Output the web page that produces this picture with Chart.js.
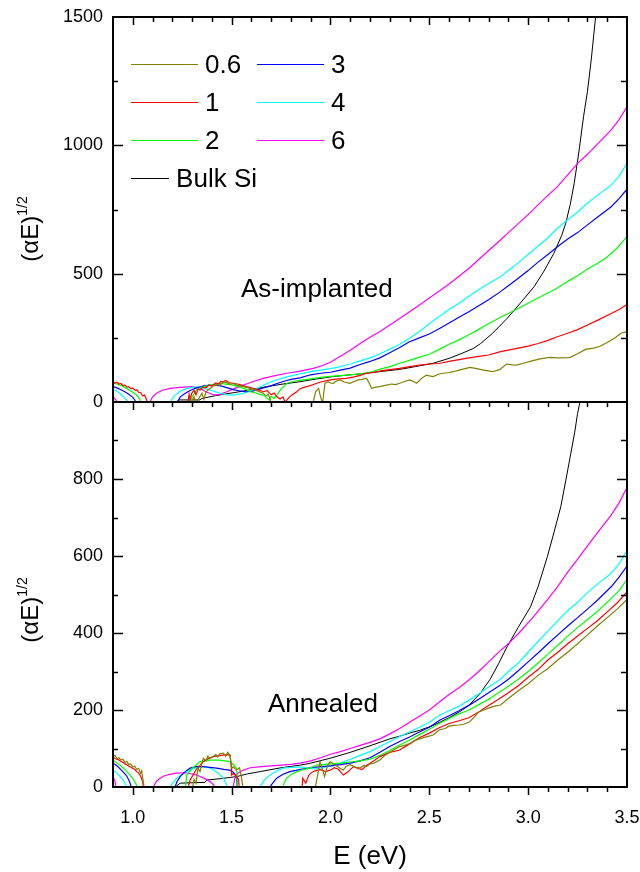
<!DOCTYPE html>
<html>
<head>
<meta charset="utf-8">
<script src="https://cdn.jsdelivr.net/npm/chart.js@4.4.1/dist/chart.umd.min.js"></script>
<style>
  html, body { margin: 0; padding: 0; background: #fff; }
  #wrap { position: relative; width: 640px; height: 872px; overflow: hidden; font-family: "Liberation Sans", Arial, sans-serif; color: #000; }
  canvas { position: absolute; left: 0; }
  #topChart { top: 0; }
  #bottomChart { top: 380px; }
  .ytitle { position: absolute; transform: translate(-50%, -50%) rotate(-90deg); white-space: nowrap; font-size: 24px; }
  .ytitle sup { font-size: 14px; position: relative; top: -2px; }
  .note { position: absolute; font-size: 26px; white-space: nowrap; line-height: 1; }
  #topChart-legend { position: absolute; left: 131px; top: 45px; }
  #topChart-legend ul { list-style: none; margin: 0; padding: 0; display: grid; grid-auto-flow: column; grid-template-rows: repeat(4, 38px); grid-template-columns: 126px auto; }
  #topChart-legend li { display: flex; align-items: center; font-size: 26px; white-space: nowrap; }
  #topChart-legend li span { display: inline-block; width: 67px; height: 1px; margin-right: 7px; }
</style>
</head>
<body>
<div id="wrap">
  <canvas id="topChart" width="640" height="420"></canvas>
  <canvas id="bottomChart" width="640" height="492"></canvas>
  <div id="topChart-legend"></div>
  <div class="note" style="left:241px; top:275px;">As-implanted</div>
  <div class="note" style="left:268px; top:690px;">Annealed</div>
  <div class="ytitle" style="left:30px; top:229px;">(αE)<sup>1/2</sup></div>
  <div class="ytitle" style="left:30px; top:610px;">(αE)<sup>1/2</sup></div>
</div>
<script>
'use strict';

// implantation dose labels and line colours
const seriesLabels = ['0.6', '1', '2', '3', '4', '6', 'Bulk Si'];
const seriesColors = ['#808000', '#ff0000', '#00ff00', '#0000ff', '#00ffff', '#ff00ff', '#000000'];
const energyTicks = [1.0, 1.5, 2.0, 2.5, 3.0, 3.5];

// [E (eV), (alpha*E)^1/2] -- as-implanted samples
const asImp06 = [[1.29,-10],[1.31,20],[1.32,-5],[1.335,15],[1.35,34],[1.36,10],[1.37,40],[1.38,47],[1.395,55],[1.405,60],[1.42,68],[1.44,66],[1.46,78],[1.475,75],[1.49,70],[1.51,72],[1.525,66],[1.55,62],[1.57,58],[1.593,53],[1.62,46],[1.64,40],[1.66,34],[1.675,24],[1.685,30],[1.694,15],[1.70,-10],[1.80,-10],[1.905,-10],[1.913,0],[1.925,40],[1.94,53],[1.95,20],[1.96,-5],[1.972,73],[1.989,79],[2.0,74],[2.014,73],[2.03,82],[2.048,86],[2.07,78],[2.098,73],[2.12,80],[2.14,86],[2.16,88],[2.183,92],[2.195,75],[2.208,53],[2.23,58],[2.25,60],[2.27,64],[2.284,66],[2.31,70],[2.33,68],[2.35,73],[2.375,80],[2.40,86],[2.42,80],[2.436,73],[2.46,92],[2.486,105],[2.50,102],[2.52,99],[2.545,108],[2.57,112],[2.6,115],[2.62,118],[2.66,126],[2.706,135],[2.74,130],[2.77,125],[2.79,122],[2.82,118],[2.858,127],[2.89,148],[2.92,145],[2.94,144],[2.98,152],[3.02,160],[3.06,168],[3.11,174],[3.15,172],[3.21,173],[3.25,188],[3.29,205],[3.33,210],[3.36,216],[3.40,232],[3.44,250],[3.47,268],[3.5,274]];
const asImp1 = [[0.9,79],[0.91,74],[0.92,77],[0.93,70],[0.94,72],[0.95,64],[0.96,66],[0.97,58],[0.98,60],[0.99,52],[1.0,54],[1.01,46],[1.02,47],[1.03,38],[1.04,36],[1.05,24],[1.06,27],[1.07,8],[1.08,-10],[1.27,-10],[1.28,5],[1.285,30],[1.29,10],[1.298,34],[1.31,45],[1.32,28],[1.33,50],[1.34,47],[1.355,58],[1.37,55],[1.385,66],[1.40,62],[1.407,66],[1.42,74],[1.435,70],[1.445,80],[1.458,79],[1.47,84],[1.485,76],[1.5,74],[1.51,73],[1.53,70],[1.55,66],[1.576,60],[1.6,55],[1.63,48],[1.66,40],[1.68,44],[1.70,28],[1.715,35],[1.728,21],[1.745,12],[1.76,20],[1.77,0],[1.78,8],[1.795,21],[1.81,30],[1.83,40],[1.846,52],[1.87,58],[1.89,62],[1.913,68],[1.95,78],[1.997,86],[2.04,90],[2.08,92],[2.12,98],[2.15,104],[2.183,112],[2.22,116],[2.26,122],[2.30,126],[2.35,131],[2.40,138],[2.45,144],[2.5,148],[2.55,150],[2.6,158],[2.65,165],[2.7,172],[2.75,178],[2.8,183],[2.86,196],[2.9,202],[2.95,210],[3.0,218],[3.05,228],[3.1,240],[3.148,254],[3.2,268],[3.25,282],[3.3,300],[3.35,318],[3.42,345],[3.46,360],[3.5,380]];
const asImp2 = [[0.9,73],[0.92,70],[0.94,64],[0.96,57],[0.98,48],[1.0,38],[1.015,30],[1.03,18],[1.037,8],[1.045,-10],[1.29,-10],[1.30,20],[1.323,47],[1.35,58],[1.39,66],[1.42,71],[1.44,73],[1.47,70],[1.51,66],[1.54,58],[1.57,50],[1.593,40],[1.62,36],[1.64,30],[1.66,27],[1.675,18],[1.69,8],[1.70,22],[1.715,14],[1.728,27],[1.75,50],[1.78,73],[1.81,80],[1.846,84],[1.9,90],[1.95,96],[2.0,100],[2.05,103],[2.1,106],[2.15,110],[2.2,116],[2.25,128],[2.3,138],[2.35,151],[2.4,162],[2.45,175],[2.5,186],[2.55,205],[2.6,225],[2.65,242],[2.7,262],[2.75,283],[2.8,305],[2.86,330],[2.9,345],[2.95,365],[3.0,385],[3.05,405],[3.1,425],[3.15,445],[3.2,470],[3.25,492],[3.3,518],[3.35,540],[3.4,565],[3.45,600],[3.5,644]];
const asImp3 = [[0.9,60],[0.92,55],[0.94,48],[0.96,40],[0.98,30],[1.0,18],[1.01,8],[1.02,-10],[1.22,-10],[1.23,5],[1.24,20],[1.264,33],[1.29,45],[1.323,55],[1.36,63],[1.39,66],[1.42,66],[1.45,62],[1.48,55],[1.508,48],[1.54,43],[1.57,40],[1.60,41],[1.63,47],[1.66,55],[1.694,62],[1.73,72],[1.77,82],[1.8,88],[1.846,94],[1.9,106],[1.95,112],[2.0,116],[2.05,124],[2.1,132],[2.15,146],[2.2,158],[2.25,172],[2.3,192],[2.35,212],[2.4,235],[2.45,250],[2.5,265],[2.554,287],[2.6,308],[2.65,330],[2.7,352],[2.75,375],[2.8,398],[2.86,430],[2.9,453],[2.95,482],[3.0,512],[3.05,545],[3.1,575],[3.148,605],[3.2,635],[3.25,660],[3.3,690],[3.35,720],[3.42,761],[3.46,792],[3.5,829]];
const asImp4 = [[0.9,50],[0.92,42],[0.94,30],[0.96,15],[0.975,3],[0.985,-10],[1.18,-10],[1.19,0],[1.21,25],[1.24,42],[1.27,52],[1.306,58],[1.34,58],[1.37,52],[1.41,42],[1.44,34],[1.475,28],[1.51,27],[1.558,34],[1.6,45],[1.627,53],[1.66,65],[1.71,82],[1.76,94],[1.8,102],[1.846,110],[1.9,118],[1.95,124],[2.0,130],[2.05,138],[2.1,148],[2.15,160],[2.2,172],[2.25,188],[2.3,205],[2.35,225],[2.4,248],[2.45,275],[2.5,305],[2.554,335],[2.6,360],[2.65,385],[2.7,412],[2.75,438],[2.8,462],[2.86,488],[2.9,512],[2.95,543],[3.0,575],[3.05,608],[3.1,640],[3.148,677],[3.2,710],[3.25,740],[3.3,775],[3.35,805],[3.42,845],[3.46,880],[3.5,930]];
const asImp6 = [[0.9,22],[0.91,12],[0.92,2],[0.93,-10],[1.08,-10],[1.087,0],[1.1,20],[1.12,34],[1.15,46],[1.19,53],[1.24,57],[1.30,60],[1.34,53],[1.37,40],[1.40,30],[1.416,27],[1.44,30],[1.475,40],[1.52,54],[1.56,66],[1.61,80],[1.66,92],[1.72,103],[1.78,112],[1.846,120],[1.913,131],[1.96,142],[2.0,155],[2.05,178],[2.1,202],[2.15,228],[2.2,252],[2.25,275],[2.3,300],[2.35,325],[2.4,352],[2.45,378],[2.5,405],[2.554,434],[2.6,460],[2.65,490],[2.7,520],[2.75,555],[2.8,590],[2.86,631],[2.9,660],[2.95,695],[3.0,730],[3.05,768],[3.1,805],[3.148,839],[3.2,885],[3.25,930],[3.3,965],[3.35,1005],[3.42,1060],[3.46,1100],[3.5,1150]];
const asImpBulk = [[1.225,0],[1.23,8],[1.34,8],[1.35,14],[1.42,25],[1.508,36],[1.6,48],[1.677,60],[1.76,70],[1.846,79],[1.93,90],[2.014,99],[2.1,106],[2.183,112],[2.27,120],[2.35,127],[2.43,138],[2.52,151],[2.6,170],[2.66,188],[2.724,209],[2.76,228],[2.82,268],[2.894,326],[2.96,385],[3.03,449],[3.08,510],[3.13,579],[3.17,650],[3.19,696],[3.213,770],[3.233,852],[3.258,982],[3.28,1111],[3.30,1210],[3.32,1340],[3.345,1530]];

// annealed samples
const ann06 = [[0.9,79],[0.91,82],[0.92,74],[0.93,76],[0.94,70],[0.95,72],[0.96,64],[0.97,66],[0.98,58],[0.99,60],[1.0,52],[1.01,54],[1.02,46],[1.03,48],[1.04,36],[1.045,42],[1.053,14],[1.06,-10],[1.30,-10],[1.31,20],[1.32,10],[1.33,49],[1.34,40],[1.357,75],[1.37,68],[1.38,80],[1.39,74],[1.407,79],[1.42,84],[1.43,78],[1.44,86],[1.458,88],[1.47,80],[1.48,90],[1.492,83],[1.5,49],[1.51,52],[1.525,44],[1.54,50],[1.55,25],[1.56,-10],[1.92,-10],[1.935,30],[1.947,66],[1.96,45],[1.97,27],[1.985,55],[1.998,66],[2.015,60],[2.03,55],[2.05,48],[2.065,44],[2.08,54],[2.1,58],[2.125,52],[2.15,50],[2.17,56],[2.183,53],[2.2,60],[2.22,62],[2.25,70],[2.275,82],[2.3,90],[2.325,98],[2.35,105],[2.375,108],[2.4,113],[2.425,120],[2.45,125],[2.485,130],[2.52,135],[2.55,148],[2.58,152],[2.6,158],[2.625,160],[2.65,161],[2.675,163],[2.7,168],[2.725,180],[2.75,195],[2.775,200],[2.8,205],[2.83,210],[2.86,213],[2.9,230],[2.95,250],[3.0,268],[3.05,290],[3.1,308],[3.15,330],[3.2,350],[3.25,372],[3.3,395],[3.35,418],[3.4,440],[3.45,462],[3.5,487]];
const ann1 = [[0.9,77],[0.91,74],[0.92,72],[0.93,70],[0.94,66],[0.95,64],[0.96,60],[0.97,58],[0.98,54],[0.99,52],[1.0,48],[1.01,46],[1.02,40],[1.03,36],[1.04,28],[1.05,14],[1.057,-10],[1.275,-10],[1.28,0],[1.29,18],[1.305,31],[1.32,45],[1.34,56],[1.357,66],[1.38,73],[1.407,79],[1.43,81],[1.458,83],[1.48,84],[1.492,82],[1.497,60],[1.5,31],[1.51,35],[1.525,27],[1.535,20],[1.54,-10],[1.855,-10],[1.86,23],[1.875,10],[1.89,30],[1.9,36],[1.92,42],[1.95,45],[1.975,40],[2.0,44],[2.02,50],[2.04,46],[2.065,31],[2.09,40],[2.116,53],[2.14,48],[2.16,45],[2.18,55],[2.2,62],[2.225,70],[2.25,79],[2.3,90],[2.35,96],[2.4,112],[2.45,128],[2.5,140],[2.55,154],[2.6,165],[2.65,172],[2.7,180],[2.75,195],[2.8,212],[2.85,228],[2.9,245],[2.95,263],[3.0,285],[3.05,305],[3.1,330],[3.15,350],[3.2,372],[3.25,392],[3.3,412],[3.35,432],[3.4,455],[3.45,478],[3.5,507]];
const ann2 = [[0.9,70],[0.92,62],[0.94,55],[0.96,45],[0.986,31],[1.0,22],[1.015,10],[1.028,-10],[1.265,-10],[1.273,31],[1.30,48],[1.34,66],[1.39,70],[1.44,70],[1.49,66],[1.51,58],[1.525,49],[1.53,-10],[1.755,-10],[1.765,10],[1.778,23],[1.80,32],[1.83,40],[1.86,45],[1.896,49],[1.93,57],[1.96,58],[2.0,60],[2.05,62],[2.1,65],[2.15,68],[2.2,72],[2.25,82],[2.3,95],[2.35,109],[2.4,122],[2.45,136],[2.5,150],[2.55,165],[2.6,178],[2.65,190],[2.7,200],[2.75,214],[2.8,228],[2.86,248],[2.9,262],[2.95,280],[3.0,300],[3.05,322],[3.1,345],[3.15,368],[3.2,392],[3.25,414],[3.3,435],[3.35,456],[3.42,490],[3.46,510],[3.5,539]];
const ann3 = [[0.9,62],[0.92,55],[0.94,45],[0.966,31],[0.98,18],[0.99,5],[0.995,-10],[1.205,-10],[1.213,0],[1.225,15],[1.24,27],[1.265,40],[1.29,49],[1.32,53],[1.357,53],[1.39,51],[1.424,49],[1.46,46],[1.49,44],[1.51,38],[1.525,27],[1.53,-10],[1.69,-10],[1.70,5],[1.728,23],[1.76,33],[1.795,40],[1.85,46],[1.9,50],[1.95,53],[2.0,55],[2.05,58],[2.1,62],[2.15,68],[2.2,76],[2.25,90],[2.3,105],[2.35,118],[2.4,130],[2.45,143],[2.5,155],[2.554,174],[2.6,185],[2.65,198],[2.7,212],[2.75,228],[2.8,245],[2.86,265],[2.9,280],[2.95,302],[3.0,325],[3.05,348],[3.1,372],[3.15,395],[3.2,418],[3.25,440],[3.3,462],[3.35,485],[3.42,520],[3.46,545],[3.5,574]];
const ann4 = [[0.9,44],[0.92,36],[0.952,18],[0.965,5],[0.97,-10],[1.18,-10],[1.188,0],[1.205,12],[1.222,23],[1.25,33],[1.29,44],[1.32,50],[1.357,53],[1.385,50],[1.41,44],[1.435,35],[1.458,23],[1.47,12],[1.48,-10],[1.638,-10],[1.644,0],[1.665,18],[1.694,31],[1.73,42],[1.76,49],[1.8,51],[1.846,52],[1.9,48],[1.93,47],[1.96,50],[2.0,55],[2.05,62],[2.1,72],[2.15,82],[2.2,92],[2.25,105],[2.3,118],[2.35,131],[2.4,143],[2.45,155],[2.5,168],[2.554,187],[2.6,198],[2.65,210],[2.7,225],[2.75,242],[2.8,260],[2.86,280],[2.9,300],[2.95,322],[3.0,350],[3.05,378],[3.1,405],[3.15,432],[3.2,458],[3.25,480],[3.3,505],[3.35,527],[3.42,555],[3.46,580],[3.5,614]];
const ann6 = [[0.9,27],[0.91,15],[0.918,-10],[1.098,-10],[1.104,0],[1.12,15],[1.138,23],[1.16,29],[1.188,33],[1.22,36],[1.255,37],[1.29,35],[1.323,31],[1.36,23],[1.39,14],[1.41,5],[1.424,-10],[1.505,-10],[1.515,20],[1.53,35],[1.56,44],[1.593,50],[1.65,53],[1.7,55],[1.75,57],[1.8,59],[1.846,62],[1.9,68],[1.95,76],[2.0,85],[2.05,92],[2.1,100],[2.15,108],[2.2,116],[2.25,125],[2.3,138],[2.35,152],[2.4,168],[2.45,184],[2.5,200],[2.554,222],[2.6,240],[2.65,258],[2.7,278],[2.75,300],[2.8,325],[2.86,355],[2.893,369],[2.95,398],[3.02,438],[3.1,488],[3.148,520],[3.2,558],[3.25,592],[3.284,615],[3.35,660],[3.42,706],[3.46,738],[3.5,778]];
const annBulk = [[1.212,-5],[1.215,0],[1.24,10],[1.30,11],[1.365,12],[1.374,18],[1.45,22],[1.525,27],[1.58,34],[1.644,40],[1.75,50],[1.85,57],[1.9,62],[2.0,75],[2.1,90],[2.2,107],[2.3,125],[2.35,132],[2.4,140],[2.45,147],[2.52,160],[2.6,180],[2.655,196],[2.7,212],[2.757,243],[2.808,280],[2.85,320],[2.893,364],[2.95,415],[3.012,468],[3.05,520],[3.097,598],[3.13,660],[3.165,728],[3.19,795],[3.216,867],[3.235,920],[3.25,970],[3.264,1005],[3.28,1060]];

const tickFont = { family: '"Liberation Sans", Arial, sans-serif', size: 18 };

function makeSets(series) {
  return series.map((pts, i) => ({
    label: seriesLabels[i],
    data: pts.map(p => ({ x: p[0], y: p[1] })),
    borderColor: seriesColors[i],
    backgroundColor: seriesColors[i],
    borderWidth: i === 6 ? 1 : 1.2,
    pointRadius: 0,
    fill: false,
    tension: 0
  }));
}

// box around the plot with inward (or outward) tick marks on every side
const frameTicks = {
  id: 'frameTicks',
  afterDatasetsDraw(chart, args, opts) {
    const { ctx, chartArea: a, scales: { x, y } } = chart;
    ctx.save();
    ctx.strokeStyle = '#000';
    ctx.lineWidth = 1.5;
    ctx.beginPath();
    for (let i = 10; i < 35; i++) {
      const px = Math.round(x.getPixelForValue(i / 10)) + 0.5;
      const len = i % 5 === 0 ? 8 : 5;
      if (opts.top) { ctx.moveTo(px, a.top); ctx.lineTo(px, a.top + len); }
      if (opts.bottom) { ctx.moveTo(px, a.bottom); ctx.lineTo(px, a.bottom + opts.bottom * len); }
    }
    for (let v = opts.yMinor; v < y.max; v += opts.yMinor) {
      const py = Math.round(y.getPixelForValue(v)) + 0.5;
      const major = v % opts.yMajor === 0;
      ctx.moveTo(a.left, py); ctx.lineTo(a.left + (major ? 10 : 5), py);
      ctx.moveTo(a.right, py); ctx.lineTo(a.right - (major ? 10 : 6), py);
    }
    ctx.stroke();
    ctx.lineWidth = 2;
    ctx.strokeRect(a.left, a.top, a.right - a.left, a.bottom - a.top);
    ctx.restore();
  }
};

function yScale(max, step) {
  return {
    type: 'linear',
    min: 0,
    max: max,
    border: { display: false },
    grid: { display: false, drawTicks: false },
    ticks: {
      stepSize: step,
      color: '#000',
      font: tickFont,
      padding: 10,
      callback: v => (v === 1000 && max === 1000 ? '' : v)
    },
    afterFit: s => { s.width = 113; s.paddingTop = 0; s.paddingBottom = 0; }
  };
}

const topChart = new Chart(document.getElementById('topChart'), {
  type: 'line',
  data: { datasets: makeSets([asImp06, asImp1, asImp2, asImp3, asImp4, asImp6, asImpBulk]) },
  options: {
    responsive: false,
    animation: false,
    layout: { padding: { left: 0, right: 13, top: 17, bottom: 18 } },
    scales: {
      x: { type: 'linear', min: 0.9, max: 3.5, display: false },
      y: yScale(1500, 500)
    },
    plugins: {
      legend: { display: false },
      tooltip: { enabled: false },
      frameTicks: { top: true, bottom: 0, yMinor: 250, yMajor: 500 }
    }
  },
  plugins: [frameTicks]
});

const bottomChart = new Chart(document.getElementById('bottomChart'), {
  type: 'line',
  data: { datasets: makeSets([ann06, ann1, ann2, ann3, ann4, ann6, annBulk]) },
  options: {
    responsive: false,
    animation: false,
    layout: { padding: { left: 0, right: 13, top: 22, bottom: 0 } },
    scales: {
      x: {
        type: 'linear',
        min: 0.9,
        max: 3.5,
        border: { display: false },
        grid: { display: false, drawTicks: false },
        afterBuildTicks: s => { s.ticks = energyTicks.map(v => ({ value: v })); },
        ticks: {
          color: '#000',
          font: tickFont,
          padding: 20,
          maxRotation: 0,
          callback: v => v.toFixed(1)
        },
        title: {
          display: true,
          text: 'E (eV)',
          color: '#000',
          font: { family: '"Liberation Sans", Arial, sans-serif', size: 26 },
          padding: { top: 0, bottom: 0 }
        },
        afterFit: s => { s.height = 85; s.paddingLeft = 0; s.paddingRight = 0; }
      },
      y: yScale(1000, 200)
    },
    plugins: {
      legend: { display: false },
      tooltip: { enabled: false },
      frameTicks: { top: true, bottom: 1, yMinor: 100, yMajor: 200 }
    }
  },
  plugins: [frameTicks]
});

// two-column legend: first column 0.6, 1, 2, Bulk Si; second column 3, 4, 6
const legendOrder = [0, 1, 2, 6, 3, 4, 5];
const ul = document.createElement('ul');
legendOrder.forEach(i => {
  const ds = topChart.data.datasets[i];
  ul.innerHTML += `<li><span style="background-color: ${ds.borderColor}"></span>${ds.label}</li>`;
});
document.getElementById('topChart-legend').appendChild(ul);
</script>
</body>
</html>
